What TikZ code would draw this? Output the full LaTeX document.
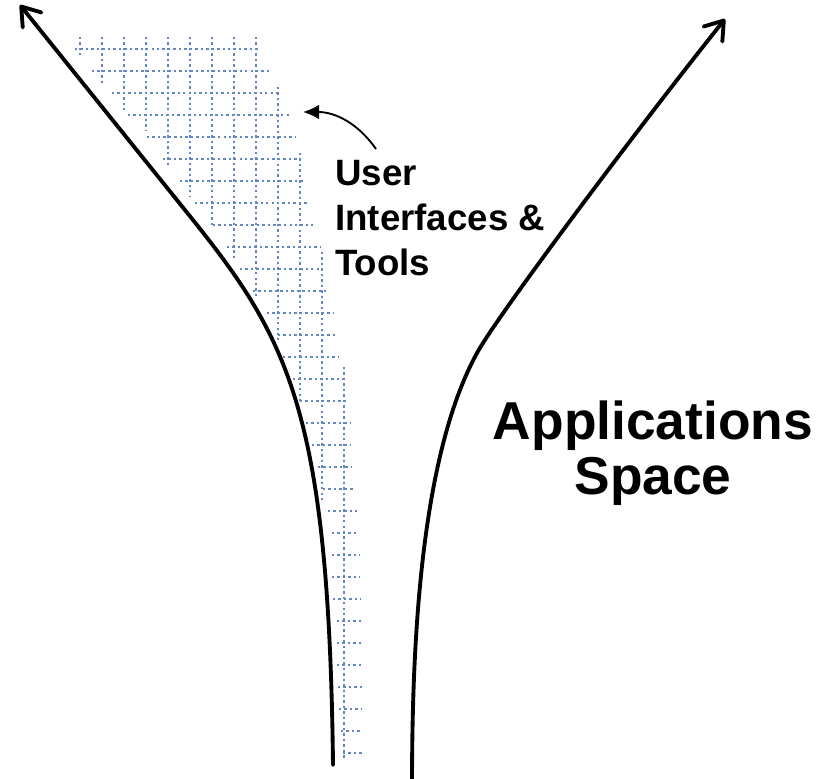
\documentclass[tikz,border=0pt]{standalone}
\usepackage{fontspec}
\setmainfont{Liberation Sans}
\usepackage{xcolor}
\usetikzlibrary{arrows.meta}
\definecolor{gridblue}{RGB}{100,134,194}
\tikzset{%
	branch/.style    = {line width=2.9pt, line cap=round, -{Straight Barb[length=13pt,width=18pt,round]}},
	gridline/.style  = {draw=gridblue, line width=2pt, dash pattern=on 1.8pt off 2.3pt},
	pointer/.style   = {line width=1.4pt, -{Latex[length=12pt,width=11pt]}},
	uilabel/.style   = {font=\bfseries\fontsize{27.5}{33.75}\selectfont, align=left, inner sep=0pt},
	spacelabel/.style= {font=\bfseries\fontsize{40}{41.25}\selectfont, align=center, inner sep=0pt},
}

\begin{document}
\begin{tikzpicture}[x=0.75pt,y=-0.75pt]
	
	\useasboundingbox (0,0) rectangle (824,778);
	
	% dotted grid beside the left branch
	\foreach \y/\xa/\xb in {49/75/260, 71/92/270, 93/112/279, 115/128/289, 137/147/295,
		159/163/300, 181/180/303, 203/195/307, 225/213/313, 247/227/320, 269/240/322,
		291/253/328, 313/267/333, 335/278/337, 357/283/339, 379/293/343, 401/300/347,
		423/306/350, 445/312/351, 467/318/351, 489/323/355, 511/328/357, 533/332/357,
		555/332/360, 577/332/360, 599/333/361, 621/337/362, 643/337/362, 665/337/362,
		687/338/362, 709/339/362, 731/341/362, 753/343/362}
		\draw[gridline] (\xa,\y) -- (\xb,\y);
	\foreach \x/\ya/\yb in {80/37/55, 102/37/83, 124/37/110, 146/37/130, 168/37/165,
		190/37/197, 212/37/227, 234/37/260, 256/37/297, 278/87/340, 300/153/403,
		322/252/500, 344/367/759}
		\draw[gridline] (\x,\ya) -- (\x,\yb);
	
	% the two branches
	\draw[branch] (333,765) .. controls (329,415) and (289,340) .. (193,220) -- (20,5);
	\draw[branch] (412,790) .. controls (412,670) and (416.5,463) .. (477,353)
		.. controls (499,313) and (645,119) .. (725,19);
	
	\node[uilabel, anchor=north west] (ui) at (335,160) {User\\Interfaces \&\\Tools};
	\node[spacelabel, anchor=north] (space) at (653,401) {Applications\\Space};
	
	\coordinate (uitail) at (376,149);
	\coordinate (gridtip) at (303,112);
	\draw[pointer] (uitail) to[out=125,in=0] (gridtip);
	
\end{tikzpicture}
\end{document}
